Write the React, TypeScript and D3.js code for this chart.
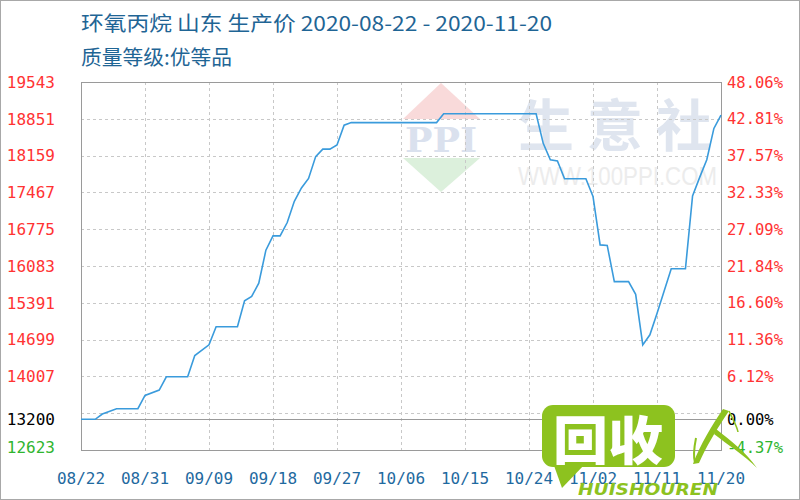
import React from "react";
import * as d3 from "d3";

const titleLine1 = "环氧丙烷 山东 生产价 2020-08-22 - 2020-11-20";
const titleLine2 = "质量等级:优等品";

const dates = [
  "2020-08-22", "2020-08-24", "2020-08-25", "2020-08-27", "2020-08-30", "2020-08-31",
  "2020-09-02", "2020-09-03", "2020-09-06", "2020-09-07", "2020-09-09", "2020-09-10",
  "2020-09-13", "2020-09-14", "2020-09-15", "2020-09-16", "2020-09-17", "2020-09-18",
  "2020-09-19", "2020-09-20", "2020-09-21", "2020-09-22", "2020-09-23", "2020-09-24",
  "2020-09-25", "2020-09-26", "2020-09-27", "2020-09-28", "2020-09-29", "2020-10-11",
  "2020-10-12", "2020-10-25", "2020-10-26", "2020-10-27", "2020-10-28", "2020-10-29",
  "2020-11-01", "2020-11-02", "2020-11-03", "2020-11-04", "2020-11-05", "2020-11-07",
  "2020-11-08", "2020-11-09", "2020-11-10", "2020-11-11", "2020-11-13", "2020-11-15",
  "2020-11-16", "2020-11-17", "2020-11-18", "2020-11-19", "2020-11-20",
];
const prices = [
  13200, 13200, 13300, 13400, 13400, 13650,
  13750, 14000, 14000, 14400, 14600, 14940,
  14940, 15430, 15510, 15760, 16380, 16650,
  16650, 16900, 17300, 17550, 17730, 18140,
  18280, 18280, 18360, 18730, 18780, 18780,
  18945, 18945, 18390, 18080, 18060, 17725,
  17725, 17390, 16480, 16470, 15790, 15790,
  15550, 14600, 14790, 15190, 16030, 16030,
  17400, 17750, 18080, 18670, 18920,
];

const xTickDates = [
  "2020-08-22", "2020-08-31", "2020-09-09", "2020-09-18", "2020-09-27", "2020-10-06",
  "2020-10-15", "2020-10-24", "2020-11-02", "2020-11-11", "2020-11-20",
];
const gridValues = [19543, 18851, 18159, 17467, 16775, 16083, 15391, 14699, 14007, 13315];
const leftTickValues = [19543, 18851, 18159, 17467, 16775, 16083, 15391, 14699, 14007, 13200, 12623];
const leftTickLabels = ["19543", "18851", "18159", "17467", "16775", "16083", "15391", "14699", "14007", "13200", "12623"];
const rightTickLabels = ["48.06%", "42.81%", "37.57%", "32.33%", "27.09%", "21.84%", "16.60%", "11.36%", "6.12%", "0.00%", "-4.37%"];
const basePrice = 13200;
const yMin = 12623;
const yMax = 19543;

export default function App() {
  const W = 800, H = 500;
  const L = 81, R = 721, T = 82, B = 450;
  const parse = d3.timeParse("%Y-%m-%d");
  const fmt = d3.timeFormat("%m/%d");
  const x = d3.scaleTime()
    .domain([parse(xTickDates[0])!, parse(xTickDates[xTickDates.length - 1])!])
    .range([L, R]);
  const y = d3.scaleLinear().domain([yMin, yMax]).range([B, T]);
  const pts: [number, number][] = dates.map((d, i) => [x(parse(d)!), y(prices[i])]);
  const line = d3.line().x((p) => p[0]).y((p) => p[1])(pts) || "";

  const labelColor = (v: number) => (v === basePrice ? "#000" : v < basePrice ? "#2fb52f" : "#ff3333");
  const mono = "'DejaVu Sans Mono', monospace";
  const cjk = "'Noto Sans CJK SC', sans-serif";
  const green = "#8dc21f";

  return (
    <svg width={W} height={H} style={{ position: "absolute", left: 0, top: 0, background: "#fff" }}>
      <rect x={0.5} y={0.5} width={W - 1} height={H - 1} fill="#fff" stroke="#a8a8a8" />

      {/* watermark: PPI logo */}
      <polygon points="441,83 480,119 403,119" fill="#f9dada" />
      <polygon points="403,158 480,158 441,192" fill="#dcf0dc" />
      <text x={441} y={152} textAnchor="middle" fontFamily="'DejaVu Serif', serif" fontWeight="bold" fontSize={34}
        textLength={72} lengthAdjust="spacingAndGlyphs" fill="#dae1ee">PPI</text>
      {/* watermark: 生意社 */}
      {["生", "意", "社"].map((c, i) => (
        <text key={c} x={546 + i * 69} y={121} dominantBaseline="central" textAnchor="middle"
          fontFamily={cjk} fontWeight="bold" fontSize={56} fill="#dfe5ef">{c}</text>
      ))}
      <text x={518} y={185} fontFamily="'Liberation Sans', sans-serif" fontSize={25} textLength={199}
        lengthAdjust="spacingAndGlyphs" fill="#ececec">WWW.100PPI.COM</text>

      {/* grid */}
      {gridValues.map((v) => (
        <line key={v} x1={L} x2={R} y1={Math.round(y(v)) + 0.5} y2={Math.round(y(v)) + 0.5}
          stroke="#c8c8c8" strokeDasharray="3,3" />
      ))}
      {xTickDates.slice(1, -1).map((d) => {
        const xx = Math.round(x(parse(d)!)) + 0.5;
        return <line key={d} x1={xx} x2={xx} y1={T} y2={B} stroke="#c8c8c8" strokeDasharray="3,3" />;
      })}
      <line x1={L} x2={R} y1={Math.round(y(basePrice)) + 0.5} y2={Math.round(y(basePrice)) + 0.5} stroke="#9a9a9a" />
      <rect x={L + 0.5} y={T + 0.5} width={R - L} height={B - T} fill="none" stroke="#9a9a9a" />

      {/* price line */}
      <path d={line} fill="none" stroke="#3a9bdc" strokeWidth={1.6} />

      {/* titles */}
      <text x={81} y={31} fontFamily={cjk} fontSize={20.5} textLength={471} lengthAdjust="spacingAndGlyphs"
        fill="#1f6595">{titleLine1}</text>
      <text x={81} y={65} fontFamily={cjk} fontSize={20.5} textLength={151} lengthAdjust="spacingAndGlyphs"
        fill="#1f6595">{titleLine2}</text>

      {/* left axis labels */}
      {leftTickValues.map((v, i) => (
        <text key={v} x={55} y={Math.min(y(v), 447)} dy="0.36em" textAnchor="end" fontFamily={mono} fontSize={16}
          fill={labelColor(v)}>{leftTickLabels[i]}</text>
      ))}
      {/* right axis labels */}
      {leftTickValues.map((v, i) => (
        <text key={v} x={727} y={Math.min(y(v), 447)} dy="0.36em" textAnchor="start" fontFamily={mono} fontSize={15.5}
          fill={labelColor(v)}>{rightTickLabels[i]}</text>
      ))}
      {/* bottom labels */}
      {xTickDates.map((d) => (
        <text key={d} x={x(parse(d)!)} y={484} textAnchor="middle" fontFamily={mono} fontSize={16} fill="#1f6aa0">
          {fmt(parse(d)!)}
        </text>
      ))}

      {/* 回收 logo overlay */}
      <rect x={542} y={405} width={133} height={62} rx={11} fill={green} />
      <polygon points="552,460 562,488 585,464" fill={green} />
      <text x={608} y={437} dominantBaseline="central" textAnchor="middle" fontFamily={cjk} fontWeight={900}
        fontSize={52} textLength={110} lengthAdjust="spacingAndGlyphs" fill="#fff">回收</text>
      <text x={578} y={495} fontFamily="'DejaVu Sans', sans-serif" fontStyle="italic" fontWeight="bold" fontSize={16}
        textLength={140} lengthAdjust="spacingAndGlyphs" fill={green}>HUISHOUREN</text>
      <path d="M693,464 C700,445 712,425 723,409 L729,411 C716,430 706,447 699,463 Z" fill={green} />
      <path d="M696,438 C694,448 693,456 695,463" fill="none" stroke={green} strokeWidth={2} />
      <path d="M716,429 C730,440 746,452 757,468 C744,455 728,445 714,434 Z" fill={green} />
      <path d="M729,411 C733,420 737,426 738,432" fill="none" stroke={green} strokeWidth={1.5} />
    </svg>
  );
}
